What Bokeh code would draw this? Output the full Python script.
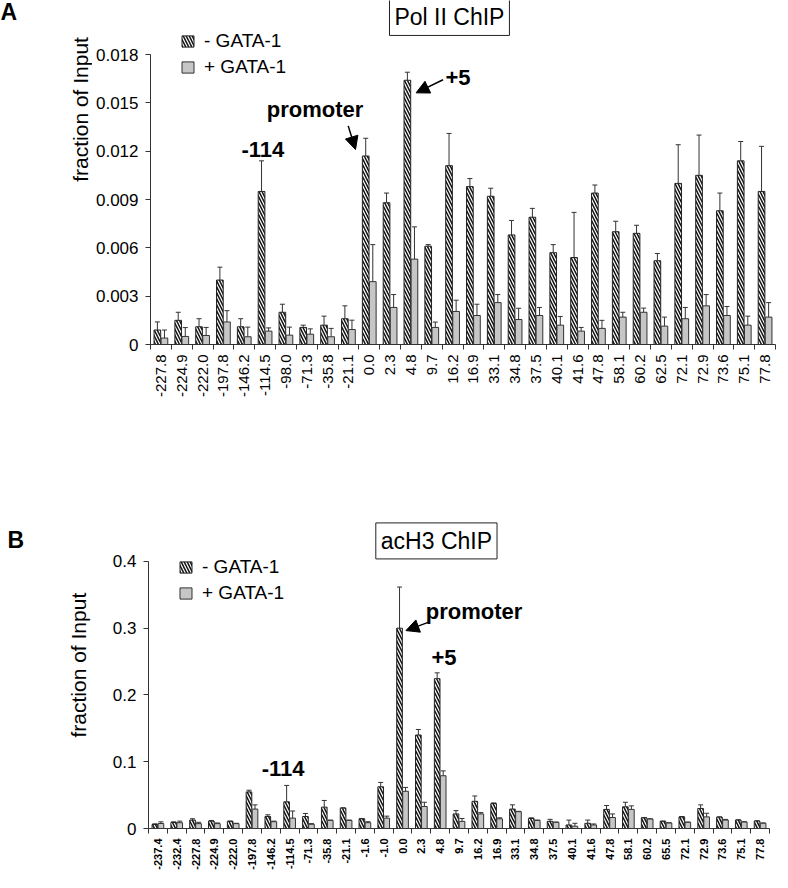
import math
from bokeh.plotting import figure
from bokeh.models import (ColumnDataSource, FixedTicker, Range1d, Whisker, TeeHead,
                          Label, Arrow, NormalHead, Legend, LegendItem)
from bokeh.layouts import column, row
from bokeh.embed import file_html
from bokeh.resources import INLINE

FONT = "Liberation Sans"

# ---------------- Panel A: Pol II ChIP ----------------
a_labels = ["-227.8", "-224.9", "-222.0", "-197.8", "-146.2", "-114.5", "-98.0", "-71.3",
            "-35.8", "-21.1", "0.0", "2.3", "4.8", "9.7", "16.2", "16.9", "33.1", "34.8",
            "37.5", "40.1", "41.6", "47.8", "58.1", "60.2", "62.5", "72.1", "72.9", "73.6",
            "75.1", "77.8"]
a_minus = [0.0009, 0.0015, 0.0011, 0.0040, 0.0011, 0.0095, 0.0020, 0.00106, 0.0012, 0.0016,
           0.0117, 0.0088, 0.0164, 0.0061, 0.0111, 0.0098, 0.0092, 0.0068, 0.0079, 0.0057,
           0.0054, 0.0094, 0.0070, 0.0069, 0.0052, 0.0100, 0.0105, 0.0083, 0.0114, 0.0095]
a_minus_err = [0.0005, 0.0005, 0.0005, 0.0008, 0.0005, 0.0019, 0.0005, 0.00014, 0.00056, 0.0008,
               0.0011, 0.0006, 0.0005, 0.0001, 0.0020, 0.0005, 0.0005, 0.0009, 0.00055, 0.0005,
               0.0028, 0.0005, 0.00065, 0.0005, 0.00045, 0.0024, 0.0025, 0.0011, 0.0012, 0.0028]
a_plus = [0.0004, 0.0005, 0.00056, 0.0014, 0.00048, 0.00083, 0.00058, 0.00064, 0.00048, 0.00093,
          0.0039, 0.0023, 0.0053, 0.00106, 0.00205, 0.0018, 0.0026, 0.00155, 0.0018, 0.0012,
          0.00083, 0.0010, 0.0017, 0.0020, 0.00114, 0.0016, 0.0024, 0.0018, 0.0012, 0.0017]
a_plus_err = [0.0005, 0.00055, 0.0005, 0.0007, 0.0006, 0.0002, 0.0005, 0.00033, 0.00052, 0.00058,
              0.0023, 0.0008, 0.0020, 0.00033, 0.0007, 0.0007, 0.0005, 0.0007, 0.0005, 0.00054,
              0.00023, 0.0005, 0.0003, 0.00026, 0.00056, 0.0007, 0.0007, 0.00056, 0.00056, 0.0009]
a_yticks = [0, 0.003, 0.006, 0.009, 0.012, 0.015, 0.018]
a_ytick_labels = ["0", "0.003", "0.006", "0.009", "0.012", "0.015", "0.018"]

# ---------------- Panel B: acH3 ChIP ----------------
b_labels = ["-237.4", "-232.4", "-227.8", "-224.9", "-222.0", "-197.8", "-146.2", "-114.5",
            "-71.3", "-35.8", "-21.1", "-1.6", "-1.0", "0.0", "2.3", "4.8", "9.7", "16.2",
            "16.9", "33.1", "34.8", "37.5", "40.1", "41.6", "47.8", "58.1", "60.2", "65.5",
            "72.1", "72.9", "73.6", "75.1", "77.8"]
b_minus = [0.006, 0.009, 0.0126, 0.011, 0.0107, 0.0548, 0.018, 0.040, 0.018, 0.032, 0.0305,
           0.0145, 0.0625, 0.300, 0.140, 0.2244, 0.0218, 0.0407, 0.0373, 0.0291, 0.015, 0.0107,
           0.0053, 0.0078, 0.0286, 0.0325, 0.016, 0.0107, 0.0174, 0.030, 0.017, 0.0126, 0.0111]
b_minus_err = [0.001, 0.001, 0.002, 0.001, 0.0005, 0.0025, 0.0025, 0.0245, 0.0045, 0.010, 0.0005,
               0.0005, 0.0065, 0.0616, 0.0083, 0.0087, 0.005, 0.008, 0.001, 0.0063, 0.001, 0.003,
               0.0073, 0.0048, 0.0058, 0.0068, 0.0005, 0.0005, 0.0005, 0.0054, 0.0005, 0.0005, 0.0005]
b_plus = [0.0075, 0.0087, 0.0073, 0.0073, 0.0073, 0.0291, 0.0102, 0.0155, 0.0063, 0.0121, 0.0121,
          0.0087, 0.0155, 0.0557, 0.033, 0.079, 0.0107, 0.0218, 0.0145, 0.0252, 0.0121, 0.0092,
          0.0034, 0.0053, 0.0165, 0.0286, 0.0141, 0.0082, 0.0092, 0.0174, 0.0126, 0.0097, 0.0078]
b_plus_err = [0.0025, 0.0023, 0.002, 0.001, 0.0005, 0.0063, 0.0008, 0.0107, 0.001, 0.0005, 0.0005,
              0.0015, 0.003, 0.0058, 0.0063, 0.0073, 0.0043, 0.002, 0.0015, 0.0005, 0.0005, 0.0005,
              0.0044, 0.0015, 0.0053, 0.0053, 0.0005, 0.0005, 0.0005, 0.0054, 0.001, 0.0005, 0.0005]
b_yticks = [0, 0.1, 0.2, 0.3, 0.4]
b_ytick_labels = ["0", "0.1", "0.2", "0.3", "0.4"]

series_names = ["- GATA-1", "+ GATA-1"]
GRAY = "#c6c6c6"
STRIP_W = 92


def side_strip(height, letter, letter_xy, ylab_xy):
    s = figure(width=STRIP_W, height=height, output_backend="svg", toolbar_location=None,
               x_range=Range1d(0, STRIP_W), y_range=Range1d(height, 0),
               x_axis_type=None, y_axis_type=None,
               min_border_left=0, min_border_right=0, min_border_top=0, min_border_bottom=0)
    s.outline_line_color = None
    s.xgrid.visible = False
    s.ygrid.visible = False
    s.add_layout(Label(x=letter_xy[0], y=letter_xy[1], text=letter, text_font=FONT,
                       text_font_size="23px", text_font_style="bold", text_color="black",
                       text_align="left", text_baseline="top"))
    s.add_layout(Label(x=ylab_xy[0], y=ylab_xy[1], text="fraction of Input", text_font=FONT,
                       text_font_size="21px", angle=math.pi / 2, text_align="center",
                       text_baseline="middle", text_color="black"))
    return s


def make_panel(labels, minus, minus_err, plus, plus_err, yticks, ytick_labels, ymax, axis_px,
               width, height, left, right, bottom, title, xlab_size, xlab_style,
               bar_w, off, legend_xy, title_xy, annots, arrows):
    n = len(labels)
    frame_h = height - bottom
    p = figure(width=width, height=height, output_backend="svg", toolbar_location=None,
               x_range=Range1d(0, n), y_range=Range1d(0, ymax * frame_h / axis_px),
               min_border_left=left, min_border_right=right, min_border_top=0,
               min_border_bottom=bottom)
    p.outline_line_color = None
    p.xgrid.visible = False
    p.ygrid.visible = False
    p.background_fill_color = "white"

    centers = [i + 0.5 for i in range(n)]
    src_m = ColumnDataSource(dict(x=[c - off for c in centers], top=minus,
                                  upper=[v + e for v, e in zip(minus, minus_err)]))
    src_p = ColumnDataSource(dict(x=[c + off for c in centers], top=plus,
                                  upper=[v + e for v, e in zip(plus, plus_err)]))

    r_m = p.vbar(x="x", top="top", width=bar_w, source=src_m, fill_color="white",
                 hatch_pattern="left_diagonal_line", hatch_color="#111111", hatch_weight=1.5,
                 hatch_scale=6, line_color="#222222", line_width=1)
    r_p = p.vbar(x="x", top="top", width=bar_w, source=src_p, fill_color=GRAY,
                 line_color="#333333", line_width=1)

    for src in (src_m, src_p):
        w = Whisker(source=src, base="x", lower="top", upper="upper", dimension="height",
                    line_color="#333333", line_width=1,
                    upper_head=TeeHead(size=5, line_color="#333333", line_width=1),
                    lower_head=None)
        p.add_layout(w)

    # x axis: labels at category centres, ticks at boundaries
    xa = p.xaxis[0]
    xa.ticker = FixedTicker(ticks=centers, minor_ticks=list(range(n + 1)))
    xa.major_label_overrides = {c: l for c, l in zip(centers, labels)}
    xa.major_label_orientation = math.pi / 2
    xa.major_tick_line_color = None
    xa.minor_tick_line_color = "#333333"
    xa.minor_tick_in = 0
    xa.minor_tick_out = 5
    xa.axis_line_color = "#333333"
    xa.major_label_text_font = FONT
    xa.major_label_text_font_size = xlab_size
    xa.major_label_text_font_style = xlab_style
    xa.major_label_text_color = "black"
    xa.major_label_standoff = 4

    ya = p.yaxis[0]
    ya.ticker = FixedTicker(ticks=yticks)
    ya.bounds = (0, ymax)
    ya.major_label_overrides = {t: l for t, l in zip(yticks, ytick_labels)}
    ya.minor_tick_line_color = None
    ya.major_tick_in = 0
    ya.major_tick_out = 5
    ya.major_tick_line_color = "#333333"
    ya.axis_line_color = "#333333"
    ya.major_label_text_font = FONT
    ya.major_label_text_font_size = "17px"
    ya.major_label_text_color = "black"
    ya.major_label_standoff = 7

    legend = Legend(items=[LegendItem(label=series_names[0], renderers=[r_m]),
                           LegendItem(label=series_names[1], renderers=[r_p])],
                    location=legend_xy, padding=0, margin=0, spacing=4,
                    border_line_color=None, background_fill_alpha=0,
                    glyph_width=15, glyph_height=14, label_standoff=9,
                    label_text_font=FONT, label_text_font_size="19px",
                    label_text_color="black")
    p.add_layout(legend, "center")

    p.add_layout(Label(x=title_xy[0], y=title_xy[1], text=title, text_font=FONT,
                       text_font_size="23px", text_align="center", text_baseline="middle",
                       text_color="black", border_line_color="#222222", border_line_width=1,
                       background_fill_color="white", padding=5))
    for (tx, ty, txt) in annots:
        p.add_layout(Label(x=tx, y=ty, text=txt, text_font=FONT, text_font_size="22px",
                           text_font_style="bold", text_align="center", text_baseline="middle",
                           text_color="black"))
    for (x0, y0, x1, y1) in arrows:
        p.add_layout(Arrow(x_start=x0, y_start=y0, x_end=x1, y_end=y1, line_width=1.5,
                           line_color="black",
                           end=NormalHead(size=13, fill_color="black", line_color="black")))
    return p


PW = 778 - STRIP_W

# Panel A: frame from canvas top to 344 px; axis 0..0.018 spans 290 px
pA = make_panel(a_labels, a_minus, a_minus_err, a_plus, a_plus_err, a_yticks, a_ytick_labels,
                0.018, 290, PW, 480, 57, 3, 136, "Pol II ChIP", "15px", "normal",
                0.32, 0.17, (30, 266), (14.35, 0.0203),
                [(5.39, 0.0121, "-114"), (7.9, 0.0146, "promoter"), (14.76, 0.01655, "+5")],
                [(9.49, 0.01357, 9.84, 0.0121), (14.04, 0.01643, 12.75, 0.01562)])
sA = side_strip(480, "A", (0, -2), (80, 152))

# Panel B: frame from canvas top to 357 px; axis 0..0.4 spans 274 px
pB = make_panel(b_labels, b_minus, b_minus_err, b_plus, b_plus_err, b_yticks, b_ytick_labels,
                0.4, 274, PW, 392, 56, 9, 35, "acH3 ChIP", "11px", "bold",
                0.3, 0.16, (30, 224), (15.3, 0.4307),
                [(7.15, 0.0896, "-114"), (17.3, 0.3248, "promoter"), (15.7, 0.2562, "+5")],
                [(14.93, 0.3095, 13.68, 0.2964)])
sB = side_strip(392, "B", (7, 52), (78, 208))

layout = column(row(sA, pA), row(sB, pB))
open("out.html", "w").write(file_html(layout, INLINE))
